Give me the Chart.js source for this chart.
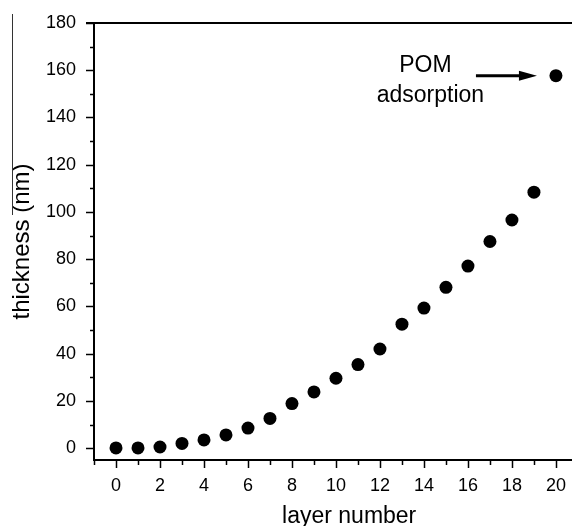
<!DOCTYPE html>
<html>
<head>
<meta charset="utf-8">
<script src="https://cdn.jsdelivr.net/npm/chart.js@4/dist/chart.umd.min.js"></script>
<style>
  html, body { margin: 0; padding: 0; background: #fff; }
  canvas { display: block; }
</style>
</head>
<body>
<canvas id="myChart" width="572" height="526"></canvas>
<script>
const layerNumbers = [0, 1, 2, 3, 4, 5, 6, 7, 8, 9, 10, 11, 12, 13, 14, 15, 16, 17, 18, 19, 20];
const thickness = [0.1, 0.1, 0.5, 2.0, 3.5, 5.6, 8.5, 12.6, 18.9, 23.8, 29.6, 35.4, 42.0, 52.5, 59.3, 68.1, 77.1, 87.5, 96.6, 108.4, 157.7];
const annotationLines = ['POM', 'adsorption'];
const xTitle = 'layer number';

const FONT = "'Liberation Sans', Arial, sans-serif";

// tick marks, top frame line, x title, annotation arrow
const extrasPlugin = {
    id: 'extras',
    afterDraw(chart) {
        const ctx = chart.ctx;
        const xs = chart.scales.x;
        const ys = chart.scales.y;
        const area = chart.chartArea;
        ctx.save();
        ctx.strokeStyle = '#000';
        ctx.lineWidth = 1.5;
        ctx.beginPath();
        for (let v = 0; v <= 180; v += 10) {
            const py = Math.round(ys.getPixelForValue(v)) + 0.5;
            const len = v % 20 === 0 ? 8 : 4;
            ctx.moveTo(area.left - len, py);
            ctx.lineTo(area.left, py);
        }
        for (let v = -1; v <= 20; v++) {
            const px = Math.round(xs.getPixelForValue(v)) + 0.5;
            const len = v % 2 === 0 ? 8 : 5;
            ctx.moveTo(px, area.bottom);
            ctx.lineTo(px, area.bottom + len);
        }
        ctx.stroke();

        // top frame
        ctx.lineWidth = 2;
        ctx.beginPath();
        ctx.moveTo(area.left - 8, area.top);
        ctx.lineTo(area.right, area.top);
        ctx.stroke();

        // stray line at the left edge of the scan
        ctx.strokeStyle = '#333';
        ctx.lineWidth = 1;
        ctx.beginPath();
        ctx.moveTo(12.5, 14);
        ctx.lineTo(12.5, 215);
        ctx.stroke();

        // x axis title, sits a bit right of the axis centre in the original
        ctx.fillStyle = '#000';
        ctx.font = '23px ' + FONT;
        ctx.textAlign = 'center';
        ctx.textBaseline = 'middle';
        ctx.fillText(xTitle, xs.getPixelForValue(10.6), xs.bottom - 9.5);

        // annotation pointing at the last point
        const last = layerNumbers.length - 1;
        const tipX = xs.getPixelForValue(layerNumbers[last]) - 19;
        const tipY = ys.getPixelForValue(thickness[last]);
        ctx.strokeStyle = '#000';
        ctx.lineWidth = 3;
        ctx.beginPath();
        ctx.moveTo(tipX - 61, tipY);
        ctx.lineTo(tipX - 16, tipY);
        ctx.stroke();
        ctx.beginPath();
        ctx.moveTo(tipX, tipY);
        ctx.lineTo(tipX - 18, tipY - 5);
        ctx.lineTo(tipX - 18, tipY + 5);
        ctx.closePath();
        ctx.fill();

        ctx.textBaseline = 'alphabetic';
        ctx.fillText(annotationLines[0], tipX - 111.5, tipY - 3.5);
        ctx.fillText(annotationLines[1], tipX - 106.5, tipY + 26);
        ctx.restore();
    }
};

const ctx = document.getElementById('myChart').getContext('2d');
const chartInstance = new Chart(ctx, {
    type: 'scatter',
    data: {
        datasets: [{
            label: 'thickness',
            data: layerNumbers.map((x, i) => ({ x: x, y: thickness[i] })),
            backgroundColor: '#000',
            borderColor: '#000',
            borderWidth: 0,
            pointRadius: 6.5,
            pointHoverRadius: 6.5,
            clip: false
        }]
    },
    options: {
        responsive: false,
        animation: false,
        devicePixelRatio: 1,
        layout: {
            autoPadding: false,
            padding: { top: 23, left: 0, right: 0, bottom: 0 }
        },
        plugins: {
            legend: { display: false },
            tooltip: { enabled: false }
        },
        scales: {
            x: {
                type: 'linear',
                min: -1,
                max: 20.73,
                afterFit(scale) {
                    scale.height = 66;
                    scale.paddingLeft = 0;
                    scale.paddingRight = 0;
                },
                grid: { display: true, drawOnChartArea: false, drawTicks: false },
                border: { display: true, color: '#000', width: 2 },
                ticks: {
                    stepSize: 1,
                    includeBounds: false,
                    autoSkip: false,
                    maxRotation: 0,
                    padding: 15,
                    color: '#000',
                    font: { family: FONT, size: 18 },
                    callback: (v) => (v >= 0 && v % 2 === 0 ? String(v) : '')
                },
                title: { display: false }
            },
            y: {
                type: 'linear',
                min: -5,
                max: 180,
                afterFit(scale) {
                    scale.width = 94;
                    scale.paddingTop = 0;
                    scale.paddingBottom = 0;
                },
                grid: { display: true, drawOnChartArea: false, drawTicks: false },
                border: { display: true, color: '#000', width: 2 },
                ticks: {
                    stepSize: 10,
                    includeBounds: false,
                    autoSkip: false,
                    padding: 18,
                    color: '#000',
                    font: { family: FONT, size: 18 },
                    callback: (v) => (v % 20 === 0 ? String(v) : '')
                },
                title: {
                    display: true,
                    text: 'thickness (nm)',
                    color: '#000',
                    font: { family: FONT, size: 24, lineHeight: 1 },
                    padding: { top: 10, bottom: 0 }
                }
            }
        }
    },
    plugins: [extrasPlugin]
});
</script>
</body>
</html>
